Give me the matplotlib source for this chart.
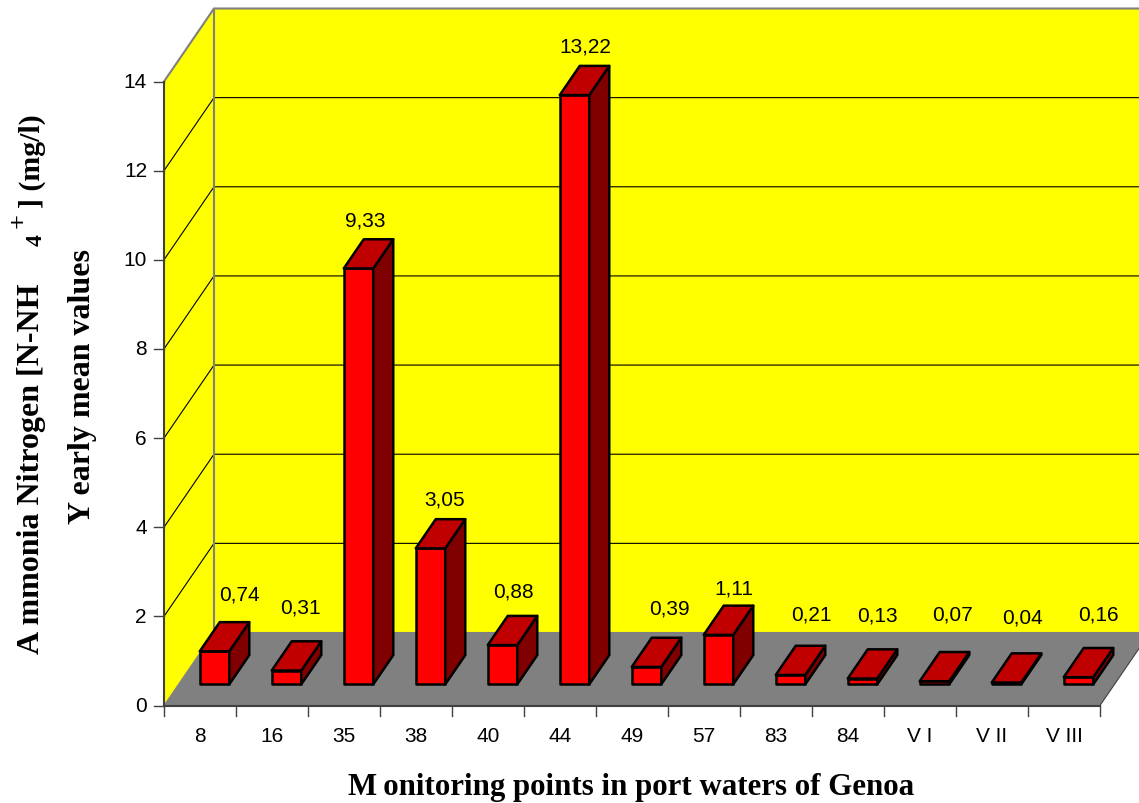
import matplotlib
matplotlib.use("Agg")
import matplotlib.pyplot as plt
from matplotlib.patches import Polygon

categories = ["8", "16", "35", "38", "40", "44", "49", "57", "83", "84", "V I", "V II", "V III"]
values = [0.74, 0.31, 9.33, 3.05, 0.88, 13.22, 0.39, 1.11, 0.21, 0.13, 0.07, 0.04, 0.16]
value_labels = ["0,74", "0,31", "9,33", "3,05", "0,88", "13,22", "0,39", "1,11", "0,21", "0,13", "0,07", "0,04", "0,16"]
y_ticks = [0, 2, 4, 6, 8, 10, 12, 14]

# label shift from the middle of the bar front, px
label_dx = [25, 14, 7, 14, 11, 11, 23, 15, 21, 15, 18, 16, 20]
label_dy = [57, 64, 48, 49, 54, 49, 59, 47, 61, 64, 67, 66, 63]

W, H = 1139, 804
X0, Y0 = 164, 706.5     # front corner of the chart, px
PX_CAT = 72.0           # px per category
PX_VAL = 624 / 14.0     # px per unit of value
DEPTH_X, DEPTH_Y = 50, 73

YELLOW = "#ffff00"
GREY = "#808080"
DARK = "#404040"


def proj(x, v, d=0.0):
    # category position, value, depth (0 front, 1 back wall) to axes data coords
    return (x + d * DEPTH_X / PX_CAT, v + d * DEPTH_Y / PX_VAL)


fig = plt.figure(figsize=(W / 100, H / 100), dpi=100)
ax = fig.add_axes([0, 0, 1, 1])
ax.set_xlim(-X0 / PX_CAT, (W - X0) / PX_CAT)
ax.set_ylim((Y0 - H) / PX_VAL, Y0 / PX_VAL)
ax.axis("off")

n = len(categories)
top = y_ticks[-1]

# walls and floor
ax.add_patch(Polygon([proj(0, 0), proj(0, top), proj(0, top, 1), proj(0, 0, 1)],
                     fc=YELLOW, ec="none", zorder=1))
ax.add_patch(Polygon([proj(0, 0, 1), proj(0, top, 1), proj(n, top, 1), proj(n, 0, 1)],
                     fc=YELLOW, ec="none", zorder=1))
ax.add_patch(Polygon([proj(0, 0), proj(n, 0), proj(n, 0, 1), proj(0, 0, 1)],
                     fc=GREY, ec="none", zorder=1))

# grid
for t in y_ticks[1:-1]:
    ax.plot(*zip(proj(0, t), proj(0, t, 1), proj(n, t, 1)), color="black", lw=0.8, zorder=2)

# wall outlines
ax.plot(*zip(proj(0, top), proj(0, top, 1), proj(n, top, 1)), color=GREY, lw=1.5, zorder=3)
ax.plot(*zip(proj(0, 0, 1), proj(0, top, 1)), color=GREY, lw=1.5, zorder=3)
ax.plot(*zip(proj(0, 0, 1), proj(n, 0, 1)), color=GREY, lw=1.5, zorder=3)
ax.plot(*zip(proj(0, 0), proj(0, 0, 1)), color=GREY, lw=0.8, zorder=3)
ax.plot(*zip(proj(n, 0), proj(n, 0, 1)), color=DARK, lw=0.8, zorder=3)
ax.plot(*zip(proj(0, 0), proj(0, top)), color=DARK, lw=1.5, zorder=3)
ax.plot(*zip(proj(0, 0), proj(n, 0)), color=DARK, lw=1.5, zorder=3)

# ticks
for t in y_ticks:
    ax.plot([-10 / PX_CAT, 0], [t, t], color=DARK, lw=1.0, zorder=3)
    ax.text(-17 / PX_CAT, t, str(t), ha="right", va="center", fontsize=15,
            family="Liberation Sans", color="black")
for i in range(n + 1):
    ax.plot([i, i], [0, -10 / PX_VAL], color=DARK, lw=1.0, zorder=3)
for i, c in enumerate(categories):
    ax.text(i + 0.5, -30 / PX_VAL, c, ha="center", va="center", fontsize=15,
            family="Liberation Sans", color="black")

# bars
BAR_W = 0.41
D0, D1 = 0.29, 0.69
for i, v in enumerate(values):
    x0 = i + 0.5 - BAR_W / 2
    x1 = x0 + BAR_W
    front = [proj(x0, 0, D0), proj(x1, 0, D0), proj(x1, v, D0), proj(x0, v, D0)]
    side = [proj(x1, 0, D0), proj(x1, 0, D1), proj(x1, v, D1), proj(x1, v, D0)]
    lid = [proj(x0, v, D0), proj(x1, v, D0), proj(x1, v, D1), proj(x0, v, D1)]
    kw = dict(ec="black", lw=1.8, joinstyle="round", zorder=5 + i)
    ax.add_patch(Polygon(front, fc="#ff0000", **kw))
    ax.add_patch(Polygon(side, fc="#800000", **kw))
    ax.add_patch(Polygon(lid, fc="#c00000", **kw))
    mx, my = proj(i + 0.5, v, D0)
    ax.text(mx + label_dx[i] / PX_CAT, my + label_dy[i] / PX_VAL, value_labels[i],
            ha="center", va="center", fontsize=15, family="Liberation Sans",
            color="black", zorder=30)


def px_text(x, y, s, **kw):
    # axis titles are placed by picture position
    ax.text((x - X0) / PX_CAT, (Y0 - y) / PX_VAL, s, family="Liberation Serif",
            fontweight="bold", color="black", ha="center", va="center", **kw)


px_text(631, 788, "M\u2009onitoring points in port waters of Genoa", fontsize=22.2)
px_text(32, 469, "A\u2009mmonia Nitrogen [N-NH", fontsize=23, rotation=90)
px_text(36, 240, "4", fontsize=17, rotation=90)
px_text(19, 221, "+", fontsize=19, rotation=90)
px_text(32, 161, "] (mg/l)", fontsize=21.5, rotation=90)
px_text(83, 386, "Y\u2009early mean values", fontsize=23, rotation=90)

fig.savefig("out.png", dpi=100, facecolor="white")
